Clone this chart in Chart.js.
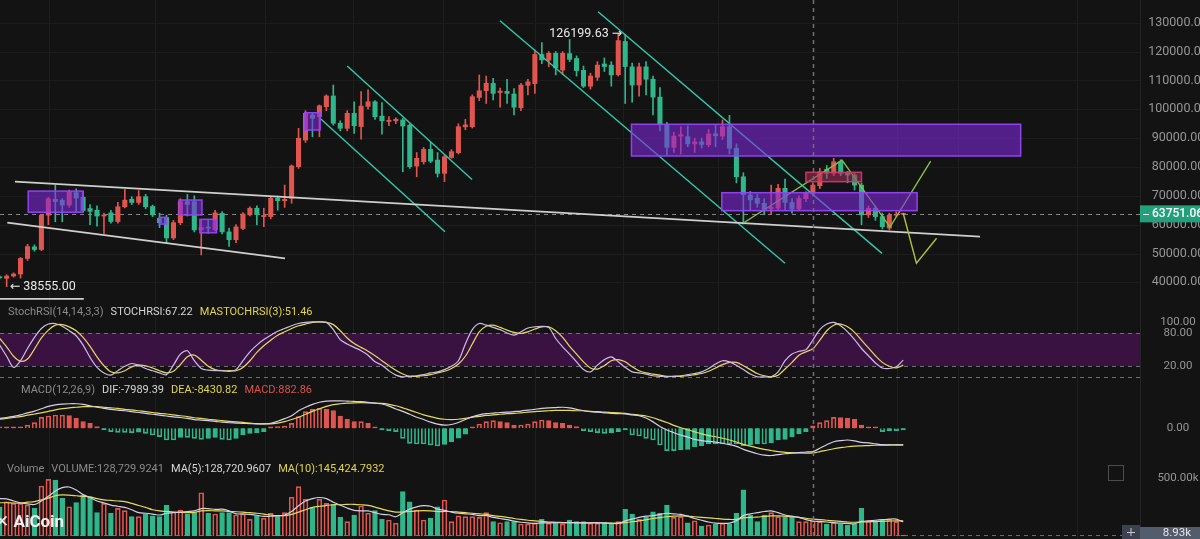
<!DOCTYPE html>
<html>
<head>
<meta charset="utf-8">
<title>BTC weekly</title>
<script src="https://cdn.jsdelivr.net/npm/chart.js@4.4.1/dist/chart.umd.min.js"></script>
<style>
  html, body { margin: 0; padding: 0; background: #131313; overflow: hidden; }
  #wrap { position: relative; width: 1200px; height: 539px; font-family: Roboto, "DejaVu Sans", sans-serif; }
  canvas { position: absolute; left: 0; display: block; }
  .hdr { position: absolute; font-size: 11px; line-height: 14px; white-space: nowrap; color: #8b8b8b; }
  .hdr span { margin-right: 7px; }
  .w { color: #d6d6d6; }
  .y { color: #e2d54a; }
  .r { color: #d9534f; }
  #logo { position: absolute; left: -5px; top: 511px; font: bold 17px Roboto, "DejaVu Sans", sans-serif; color: #f0f0f0; white-space: nowrap; }
</style>
</head>
<body>
<div id="wrap">
  <canvas id="cPrice" width="1200" height="300" style="top:0"></canvas>
  <canvas id="cStoch" width="1200" height="80" style="top:300px"></canvas>
  <canvas id="cMacd" width="1200" height="80" style="top:380px"></canvas>
  <canvas id="cVol" width="1200" height="79" style="top:460px"></canvas>
  <div class="hdr" style="left:8px;top:305px"><span>StochRSI(14,14,3,3)</span><span class="w">STOCHRSI:67.22</span><span class="y">MASTOCHRSI(3):51.46</span></div>
  <div class="hdr" style="left:21px;top:383px"><span>MACD(12,26,9)</span><span class="w">DIF:-7989.39</span><span class="y">DEA:-8430.82</span><span class="r">MACD:882.86</span></div>
  <div class="hdr" style="left:7px;top:462px"><span>Volume</span><span>VOLUME:128,729.9241</span><span class="w">MA(5):128,720.9607</span><span class="y">MA(10):145,424.7932</span></div>
  <div id="logo">✕ AiCoin</div>
</div>
<script>
// weekly candles
const open = [41900,41400,42200,42900,48300,52300,51400,63300,68800,68500,
  66800,71100,69500,65600,65000,63000,64100,61100,66200,68800,
  67700,69700,66300,62200,62500,55400,60700,68000,68000,58200,
  59000,58200,63900,57500,54800,58700,63400,65700,62800,62800,
  69150,68300,69150,80100,89350,98000,97400,100900,104600,95150,
  93400,98600,94000,101000,102600,97600,95800,96000,96300,94500,
  80300,81800,86100,82400,77800,83300,84950,93900,93950,104100,
  106400,109000,105800,106200,105300,100500,108300,108900,119000,117000,
  119400,113600,119300,117600,113500,108000,111100,115700,115300,112000,
  123500,114700,108400,114700,110400,104200,94600,86800,90700,90500,
  88000,88700,87700,91500,90700,94000,86500,76600,70300,69150,
  67400,65500,65700,72600,67700,65500,69000,70800,73500,79200,
  77800,81800,77800,77200,73700,63400,65700,62800,58800,63300,63600];
const high = [42300,42600,43300,48600,53200,53000,63600,69500,73700,69000,
  72000,72400,71500,67000,66500,64000,65000,67700,72200,69700,
  71800,70500,66800,64000,63300,61500,69000,70500,70000,61700,
  61500,65000,64500,58800,60000,64200,66200,66500,65700,69500,
  69900,73750,80700,93400,99500,98600,101500,105000,108400,96000,
  99500,102600,106100,106700,103000,102300,97500,97000,96800,95000,
  85000,86800,88500,85000,84000,86000,95000,96500,105000,111900,
  111500,110700,107300,110400,107200,109000,110400,120500,123100,120000,
  120000,120000,124200,118500,115000,112500,116500,117800,116500,126199.63,
  126000,116000,116000,116500,111500,107500,95500,92000,94000,94200,
  90000,90000,93000,94500,96300,97900,88000,78000,71500,70500,
  69000,73750,74000,75800,69000,70000,71500,74500,79500,80500,
  83000,82500,78500,78000,74500,66500,66500,64000,64000,64500,64000];
const low = [41200,38555,41800,41500,47600,50800,51000,60000,61000,61000,
  66000,64500,64500,60000,59500,57000,60500,60500,65800,67000,
  67000,65500,62800,59000,53600,54800,60000,63000,57500,49500,
  57000,57800,56800,52500,53800,58300,63000,59900,59300,62000,
  65000,66000,67400,79500,88500,90500,90500,99500,94500,92500,
  92500,91600,89600,100000,96500,91400,94300,95000,78300,79500,
  76600,81000,81500,76500,74900,83000,84500,92900,93500,103000,
  102000,103200,100700,102000,98000,99500,105000,105500,115800,114700,
  111900,112000,116500,111500,107500,107000,110000,113100,108000,111500,
  102000,102500,104500,105000,98000,92500,84000,85000,84500,87000,
  85000,86500,87000,87000,89500,84500,74500,60200,65100,66000,
  63500,63500,65000,65000,64000,65000,68000,70000,72500,76000,
  77000,77000,74500,72000,60000,62500,61500,58500,58150,62800,63400];
const close = [41600,42200,42900,48300,52400,51400,63300,69000,68000,66800,
  71400,69200,64900,64600,63000,63300,61100,66200,68500,67700,
  69700,66200,63400,60700,55400,60700,68000,67000,58200,59000,
  58800,64100,57500,54800,59200,63700,65700,63500,63200,69150,
  68300,68800,80350,89950,98600,96850,101200,104600,95150,93400,
  98600,94300,101100,102600,97400,96000,96200,96500,94200,80100,
  83000,86100,82000,77800,83550,85300,93950,94600,104350,106400,
  109000,105500,106300,105500,100700,108400,109500,119000,117100,119400,
  114300,119400,117300,113400,108000,111500,115300,114800,111900,123800,
  114800,108400,114700,110400,104200,94600,86800,90700,91200,88000,
  88700,87800,91400,90800,94000,86500,76600,70400,68600,67400,
  65300,66000,72600,67700,65400,69100,70800,73700,78300,77800,
  81800,77800,77200,73700,63400,65700,62800,59300,63300,63600,63751.06];

// volume in thousands, with its moving averages
const volumeK = [251,294,280,280,266,237,429,486,480,323,
  251,286,352,332,200,280,195,237,217,166,
  166,189,172,166,263,208,223,189,200,371,
  195,189,200,200,180,189,143,172,152,195,
  166,200,332,423,315,243,315,280,274,160,
  123,180,257,195,217,143,137,109,380,294,
  223,137,152,251,309,123,172,166,166,160,
  200,123,114,123,123,103,103,109,143,109,
  114,103,137,123,123,109,109,114,103,123,
  229,189,143,160,208,195,266,160,166,114,
  131,86,94,103,109,103,195,395,180,123,
  180,200,166,166,166,123,123,128.73,123,103,
  114,103,94,103,237,131,123,137,143,123,8.93];
const volMa5K = [320,318,300,285,275,270,300,340,385,415,
  420,395,355,330,300,285,265,255,245,225,
  200,195,188,180,195,200,205,210,215,235,
  235,228,230,215,190,190,185,178,168,170,
  172,180,210,260,300,320,330,320,290,265,
  240,220,215,215,200,185,182,165,200,230,
  250,260,255,230,220,205,195,190,185,175,
  175,160,150,140,128,118,112,108,112,112,
  115,112,115,115,112,113,115,112,108,108,
  130,145,160,170,175,185,195,190,185,170,
  150,135,120,110,108,110,130,175,190,200,
  210,215,200,180,170,160,140,128.72,125,120,
  115,110,108,105,125,130,135,140,145,145,120];
const volMa10K = [285,285,283,283,290,295,310,325,345,352,
  350,345,340,335,320,310,305,300,295,280,
  262,245,225,215,210,205,202,200,202,215,
  218,215,215,210,208,205,200,195,188,180,
  175,175,185,205,225,245,255,262,268,268,
  272,272,268,262,248,230,215,205,205,210,
  215,218,215,210,210,210,205,200,195,190,
  185,175,168,160,150,142,135,130,125,120,
  118,116,115,113,113,112,112,111,110,110,
  115,122,130,140,150,158,165,170,172,170,
  165,160,155,150,145,142,142,155,160,162,
  168,172,172,170,165,160,152,145.42,140,135,
  130,125,120,118,120,122,124,126,128,130,130];

// StochRSI
const stochK = [58,38,18,30,52,72,88,96,97,92,
  84,75,58,36,18,8,4,12,20,25,
  22,16,12,8,5,22,42,48,30,16,
  13,12,12,11,14,30,46,58,68,76,
  83,88,93,97,99,100,100,99,86,68,
  60,54,48,40,28,22,12,4,1,2,
  3,5,8,10,14,20,30,60,86,97,
  94,90,86,80,76,82,89,91,92,90,
  70,55,42,28,14,10,22,32,37,28,
  18,10,8,6,3,2,1,2,3,5,
  7,10,16,24,30,28,22,14,6,1,
  1,1,10,30,42,47,50,67.22,86,96,
  99,93,82,68,52,39,26,17,16,19,31];
const stochD = [70,55,38,29,33,51,71,85,94,95,
  91,84,72,56,37,21,10,8,12,19,
  22,21,17,12,8,11,23,37,40,31,
  20,14,12,12,12,18,30,45,57,67,
  76,82,88,93,96,99,100,99,95,84,
  71,61,54,47,39,30,21,13,6,2,
  2,3,5,8,11,16,24,38,60,82,
  92,94,90,85,81,79,82,87,91,91,
  84,72,56,42,28,17,15,21,30,32,
  28,19,12,8,6,4,2,2,2,3,
  5,7,11,17,23,27,27,21,14,7,
  3,1,4,15,27,40,46,51.46,67,84,
  94,96,91,81,67,53,39,27,20,17,22];

// MACD(12,26,9)
const macdDif = [3400,3700,4100,4600,5300,5900,6700,7500,8000,8300,
  8400,8400,8200,7700,7200,6800,6500,6200,6000,5700,
  5400,5100,4800,4500,4200,3900,3700,3400,3000,2800,
  2600,2400,2100,1900,1800,1700,1600,1500,1500,1700,
  2400,3300,4300,6000,7200,8200,8900,9300,9400,9400,
  9300,9200,9100,8900,8600,8300,7600,6600,5800,4800,
  3800,3000,2100,1400,1100,1300,2000,3000,3900,4600,
  5000,5200,5400,5500,5700,5900,6200,6500,6800,7000,
  7100,7200,7000,6500,6000,5700,5500,5300,5100,5000,
  4900,4600,4300,3500,2200,600,-600,-1500,-2300,-3000,
  -3800,-4200,-4500,-4700,-5100,-5600,-6200,-7200,-8000,-8700,
  -9200,-9300,-9000,-8700,-8500,-8300,-8100,-7989.39,-6800,-5600,
  -4600,-4200,-4000,-4300,-4800,-5000,-5300,-5600,-5700,-5700,-5700];
const macdDea = [3100,3400,3700,4000,4500,4900,5300,5800,6300,6700,
  7000,7200,7400,7400,7400,7200,7000,6800,6500,6300,
  6000,5700,5400,5100,4900,4600,4300,4000,3600,3400,
  3100,2900,2600,2400,2200,2000,1800,1600,1500,1500,
  1800,2300,3000,3800,4800,5800,6700,7500,8100,8400,
  8600,8700,8750,8700,8600,8500,8200,7700,7000,6200,
  5400,4600,4000,3400,3100,3000,3100,3400,3800,4100,
  4400,4600,4800,5000,5100,5300,5500,5700,5900,6000,
  6100,6100,6100,6000,6000,5800,5700,5500,5400,5300,
  5100,4800,4500,4200,3600,2800,2000,1000,200,-500,
  -1200,-1900,-2500,-2900,-3400,-4000,-4700,-5500,-6100,-6700,
  -7200,-7600,-8000,-8200,-8350,-8450,-8500,-8430.82,-8000,-7500,
  -7000,-6600,-6300,-6100,-6000,-5900,-5800,-5750,-5700,-5700,-5700];
const macdHist = [400,350,300,500,1140,1930,3750,4200,4560,4560,
  4330,3420,2280,1710,570,-100,-1140,-1370,-1370,-1480,
  -1300,-1710,-2280,-2850,-3990,-3990,-3080,-3080,-3420,-3760,
  -3420,-3080,-3760,-3990,-3420,-2280,-1710,-1480,-1140,100,
  570,800,1710,3990,5700,6500,6840,6500,6040,4200,
  3080,2280,2280,1710,340,-230,-800,-1140,-3420,-5130,
  -5360,-5360,-5700,-6040,-5500,-4600,-3400,-2000,100,1480,
  2280,2620,2280,1940,1140,1140,1480,2280,2850,2620,
  1940,1710,1140,570,-800,-1140,-1480,-1710,-1480,-1140,
  -570,-2280,-2620,-3420,-3990,-5700,-7640,-7640,-7410,-7180,
  -6270,-6040,-5360,-5360,-5360,-5360,-5360,-6040,-5700,-5360,
  -5360,-4900,-3990,-3760,-2850,-1940,-1140,882.86,1940,2620,
  3760,3700,3500,3080,1140,230,50,-1140,-800,-800,-570];

// axis ticks
const priceTicks = [40000,50000,60000,70000,80000,90000,100000,110000,120000,130000];
const stochTicks = [100, 80, 20];
const macdTicks = [0];
const volTicksK = [500];
const gridIdx = [7.1, 22.3, 38.2, 50.8, 63.8, 77, 89.7, 103.4, 129.1, 137.9, 155];

// drawings on the price pane: [fromIdx, toIdx, lowPrice, highPrice]
const purpleZones = [[4.1, 12.0, 64300, 71650], [22.96, 24.0, 60200, 62550], [25.8, 29.1, 63350, 68550],
  [28.8, 31.2, 57200, 61850], [43.9, 46.1, 92800, 98800], [90.9, 146.9, 83800, 94800], [103.9, 132.0, 64850, 71080]];
const redZones = [[116.0, 124.0, 74900, 78150]];
const whiteLines = [[[2.2, 74900], [141.05, 55830]], [[1.09, 60680], [41.05, 48340]], [[0.04, 34300], [12.1, 34300]]];
const tealLines = [[[50.0, 114990], [67.96, 75650]], [[46.09, 96865], [64.07, 57560]],
  [[86.1, 133810], [126.95, 50070]], [[71.99, 130690], [112.99, 46610]]];
const greenPaths = [[[107.0, 60570], [121.2, 82350], [128.1, 59180], [133.95, 82060]],
  [[130.0, 63940], [131.9, 46610], [134.8, 55280]]];
const lastPrice = 63751.06;
const lastVolK = 8.93;
const highIdx = 89, lowIdx = 1;
const crossIdx = 117;

const RED = '#e0564f', GREEN = '#2fb78b';
const LAV = '#d6cfe6', YEL = '#e6da5c';
const FONT = 'Roboto, "DejaVu Sans", sans-serif';
Chart.defaults.font.family = FONT;

const idx = close.map((_, i) => i);
const isUp = i => close[i] >= open[i];
const pts = arr => idx.map(i => ({ x: i, y: arr[i] }));
const seg = p => p.map(([x, y]) => ({ x, y }));

function lineSet(data, color, width, order, tension) {
  return { type: 'line', data, borderColor: color, borderWidth: width, pointRadius: 0,
    tension: tension || 0, order, fill: false };
}

function hline(ctx, a, py, color, dash) {
  ctx.strokeStyle = color; ctx.setLineDash(dash || []);
  ctx.beginPath(); ctx.moveTo(a.left, Math.round(py) + 0.5); ctx.lineTo(a.right, Math.round(py) + 0.5); ctx.stroke();
}

const decor = {
  id: 'decor',
  beforeDatasetsDraw(chart, args, o) {
    const { ctx, chartArea: a, scales: { x, y } } = chart;
    ctx.save();
    ctx.lineWidth = 1;
    ctx.strokeStyle = '#1e1e1e';
    gridIdx.forEach(g => {
      const px = Math.round(x.getPixelForValue(g)) + 0.5;
      ctx.beginPath(); ctx.moveTo(px, 0); ctx.lineTo(px, chart.height); ctx.stroke();
    });
    (o.hGrid || []).forEach(v => hline(ctx, a, y.getPixelForValue(v), '#1c1c1c'));
    if (o.band) {
      const t = y.getPixelForValue(o.band[1]), b = y.getPixelForValue(o.band[0]);
      ctx.fillStyle = '#3a1242';
      ctx.fillRect(a.left, t, a.right - a.left, b - t);
    }
    (o.dashed || []).forEach(v => hline(ctx, a, y.getPixelForValue(v), o.dashColor || '#6e6e6e', [4, 4]));
    ctx.restore();
  },
  afterDatasetsDraw(chart, args, o) {
    const { ctx, scales: { x, y } } = chart;
    ctx.save();
    const zone = (z, fill, stroke) => {
      const x0 = x.getPixelForValue(z[0]), x1 = x.getPixelForValue(z[1]);
      const y0 = y.getPixelForValue(z[3]), y1 = y.getPixelForValue(z[2]);
      ctx.fillStyle = fill; ctx.fillRect(x0, y0, x1 - x0, y1 - y0);
      ctx.strokeStyle = stroke; ctx.lineWidth = 1.5; ctx.strokeRect(x0, y0, x1 - x0, y1 - y0);
    };
    if (o.zones) {
      purpleZones.forEach(z => zone(z, 'rgba(128,40,220,0.58)', 'rgba(150,70,245,0.95)'));
      redZones.forEach(z => zone(z, 'rgba(170,45,95,0.55)', 'rgba(205,60,110,0.9)'));
    }
    if (o.marks) {
      ctx.fillStyle = '#e8e8e8';
      ctx.font = '12.5px ' + FONT;
      ctx.textBaseline = 'middle';
      ctx.textAlign = 'right';
      ctx.fillText('126199.63 →', x.getPixelForValue(highIdx) + 4, y.getPixelForValue(high[highIdx]));
      ctx.textAlign = 'left';
      ctx.fillText('← 38555.00', x.getPixelForValue(lowIdx) + 3, y.getPixelForValue(low[lowIdx]));
    }
    const cx = Math.round(x.getPixelForValue(crossIdx)) + 0.5;
    ctx.strokeStyle = '#707070'; ctx.lineWidth = 1.5; ctx.setLineDash([4, 4]);
    ctx.beginPath(); ctx.moveTo(cx, 0); ctx.lineTo(cx, chart.height); ctx.stroke();
    ctx.restore();
  },
  afterDraw(chart, args, o) {
    const { ctx, chartArea: a, scales: { y } } = chart;
    ctx.save();
    ctx.strokeStyle = '#242424'; ctx.lineWidth = 1;
    ctx.beginPath(); ctx.moveTo(a.right + 0.5, 0); ctx.lineTo(a.right + 0.5, chart.height); ctx.stroke();
    ctx.fillStyle = '#969696';
    ctx.font = (o.labelSize || 11.5) + 'px ' + FONT;
    ctx.textAlign = 'center'; ctx.textBaseline = 'middle';
    (o.labels || []).forEach(v => ctx.fillText(o.fmt(v), 1178, y.getPixelForValue(v)));
    if (o.tag) {
      const py = y.getPixelForValue(o.tag.v);
      ctx.fillStyle = '#22a07a';
      ctx.fillRect(a.right, py - 8.5, 60, 17);
      ctx.fillStyle = '#ffffff';
      ctx.fillRect(a.right + 3, Math.round(py), 6, 1);
      ctx.font = '500 12px ' + FONT;
      ctx.textAlign = 'left';
      ctx.fillText(o.tag.text, 1152, py + 0.5);
    }
    if (o.volTag) {
      ctx.fillStyle = '#3a4252'; ctx.fillRect(a.right - 18, chart.height - 14, 18, 14);
      ctx.fillStyle = '#535c6d'; ctx.fillRect(a.right, chart.height - 12, 60, 12);
      ctx.fillStyle = '#e6e6e6';
      ctx.fillText(o.volTag, 1177, chart.height - 5.5);
      ctx.fillStyle = '#c8c8c8';
      ctx.fillRect(a.right - 13, chart.height - 7, 8, 1);
      ctx.fillRect(a.right - 9.5, chart.height - 11, 1, 8);
      ctx.strokeStyle = '#4d4d4d'; ctx.lineWidth = 1;
      ctx.strokeRect(1108.5, 5.5, 15, 15);
    }
    ctx.restore();
  }
};

function makeChart(id, datasets, yMin, yMax, decorOpts) {
  return new Chart(document.getElementById(id), {
    type: 'bar',
    data: { datasets },
    options: {
      responsive: false, animation: false, events: [],
      layout: { padding: 0 },
      plugins: { legend: { display: false }, tooltip: { enabled: false }, decor: decorOpts },
      scales: {
        x: { type: 'linear', offset: false, bounds: 'ticks', min: 0.043, max: 164.07, display: false },
        y: { type: 'linear', position: 'right', min: yMin, max: yMax,
          grid: { display: false }, border: { display: false }, ticks: { display: false },
          afterFit(s) { s.width = 60; s.paddingTop = 0; s.paddingBottom = 0; } }
      }
    },
    plugins: [decor]
  });
}

// price pane
const candleColor = idx.map(i => isUp(i) ? RED : GREEN);
const priceSets = [
  { type: 'bar', data: idx.map(i => ({ x: i, y: [low[i], high[i]] })), backgroundColor: candleColor,
    barThickness: 1, grouped: false, order: 11 },
  { type: 'bar', data: idx.map(i => ({ x: i, y: [open[i], close[i]] })), backgroundColor: candleColor,
    barThickness: 4.4, grouped: false, minBarLength: 1, order: 10 }
];
whiteLines.forEach(l => priceSets.push(lineSet(seg(l), '#cfcfcf', 1.8, 3)));
tealLines.forEach(l => priceSets.push(lineSet(seg(l), '#33c6a4', 1.5, 3)));
greenPaths.forEach((l, k) => priceSets.push(lineSet(seg(l), k ? '#a9c43c' : '#86c243', 1.4, 2)));
makeChart('cPrice', priceSets, 33890, 137870, {
  hGrid: priceTicks, dashed: [lastPrice], dashColor: '#858585', zones: true, marks: true,
  labels: priceTicks, fmt: v => v.toFixed(2), labelSize: 12.5,
  tag: { v: lastPrice, text: lastPrice.toFixed(2) }
});

// StochRSI pane
makeChart('cStoch', [
  lineSet(pts(stochK), '#cdbde6', 1.2, 1, 0.3),
  lineSet(pts(stochD), YEL, 1.2, 1, 0.3)
], -4.7, 139.3, {
  band: [20, 80], dashed: [80, 20, 0], dashColor: '#707070',
  labels: stochTicks, fmt: v => v.toFixed(2)
});

// MACD pane
const histColor = macdHist.map(v => v >= 0 ? RED : GREEN);
const histFill = macdHist.map((v, i) => (i > 0 && Math.abs(v) < Math.abs(macdHist[i - 1])) ? histColor[i] : 'rgba(0,0,0,0)');
makeChart('cMacd', [
  { type: 'bar', data: pts(macdHist), backgroundColor: histFill, borderColor: histColor, borderWidth: 1,
    barThickness: 4.6, grouped: false, minBarLength: 1.5, order: 2 },
  lineSet(pts(macdDif), LAV, 1.2, 1, 0.3),
  lineSet(pts(macdDea), YEL, 1.2, 1, 0.3)
], -10840, 16520, {
  labels: macdTicks, fmt: v => v.toFixed(2)
});

// Volume pane
const volColor = idx.map(i => isUp(i) ? RED : GREEN);
const volFill = idx.map(i => isUp(i) ? 'rgba(0,0,0,0)' : GREEN);
makeChart('cVol', [
  { type: 'bar', data: pts(volumeK), backgroundColor: volFill, borderColor: volColor, borderWidth: 1,
    barThickness: 4.8, grouped: false, order: 2 },
  lineSet(pts(volMa5K), LAV, 1.2, 1, 0.3),
  lineSet(pts(volMa10K), YEL, 1.2, 1, 0.3)
], -25.7, 651.8, {
  dashed: [lastVolK], dashColor: '#6a6a6a',
  labels: volTicksK, fmt: v => v.toFixed(2) + 'k', volTag: lastVolK.toFixed(2) + 'k'
});
</script>
</body>
</html>
